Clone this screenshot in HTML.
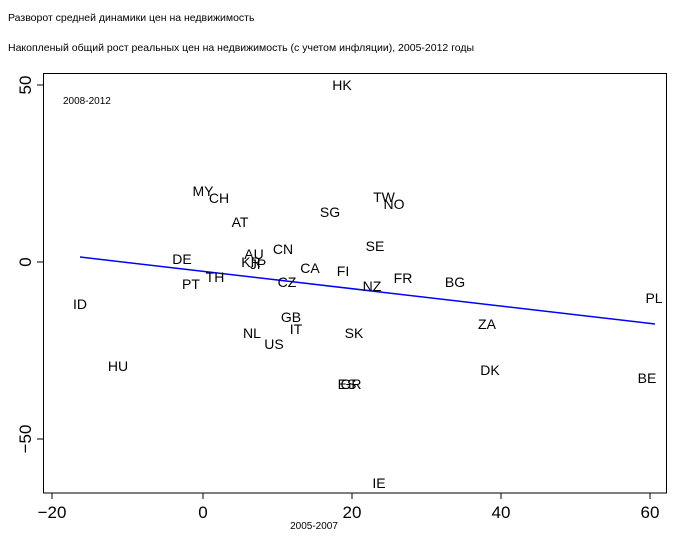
<!DOCTYPE html>
<html><head><meta charset="utf-8"><style>body{margin:0;background:#fff}</style></head><body>
<svg width="698" height="538" xmlns="http://www.w3.org/2000/svg" font-family="Liberation Sans, Arial, sans-serif">
<rect width="698" height="538" fill="#fff"/>
<text x="8" y="21" font-size="10.5">Разворот средней динамики цен на недвижимость</text>
<text x="8" y="51" font-size="10.5">Накопленый общий рост реальных цен на недвижимость (с учетом инфляции), 2005-2012 годы</text>
<rect x="43.5" y="73.5" width="623" height="419.5" fill="none" stroke="#000" stroke-width="1"/>
<g stroke="#000">
<line x1="52" y1="493" x2="52" y2="499"/><line x1="203" y1="493" x2="203" y2="499"/><line x1="352" y1="493" x2="352" y2="499"/><line x1="501" y1="493" x2="501" y2="499"/><line x1="650" y1="493" x2="650" y2="499"/>
<line x1="37" y1="85" x2="43" y2="85"/><line x1="37" y1="262" x2="43" y2="262"/><line x1="37" y1="439" x2="43" y2="439"/>
</g>
<g font-size="17" text-anchor="middle">
<text x="52" y="518">−20</text><text x="203" y="518">0</text><text x="352" y="518">20</text><text x="501" y="518">40</text><text x="650" y="518">60</text>
<text transform="translate(31,85) rotate(-90)">50</text>
<text transform="translate(31,262) rotate(-90)">0</text>
<text transform="translate(31,439) rotate(-90)">−50</text>
</g>
<text x="314" y="529" font-size="10" text-anchor="middle">2005-2007</text>
<text x="63" y="104" font-size="10">2008-2012</text>
<line x1="80" y1="257" x2="655" y2="324" stroke="#0000ff" stroke-width="1.5"/>
<g font-size="14" text-anchor="middle">
<text x="342" y="90">HK</text><text x="203" y="196">MY</text><text x="219" y="203">CH</text><text x="240" y="227">AT</text>
<text x="330" y="217">SG</text><text x="384" y="202">TW</text><text x="394" y="209">NO</text><text x="375" y="251">SE</text>
<text x="254" y="259">AU</text><text x="283" y="254">CN</text><text x="251" y="267">KR</text><text x="258" y="269">JP</text>
<text x="310" y="273">CA</text><text x="343" y="276">FI</text><text x="372" y="291">NZ</text><text x="403" y="283">FR</text>
<text x="455" y="287">BG</text><text x="182" y="264">DE</text><text x="191" y="289">PT</text><text x="215" y="282">TH</text>
<text x="287" y="287">CZ</text><text x="80" y="309">ID</text><text x="654" y="303">PL</text><text x="291" y="322">GB</text>
<text x="296" y="334">IT</text><text x="487" y="329">ZA</text><text x="252" y="338">NL</text><text x="274" y="349">US</text>
<text x="354" y="338">SK</text><text x="118" y="371">HU</text><text x="490" y="375">DK</text><text x="647" y="383">BE</text>
<text x="347" y="389">ES</text><text x="351" y="389">GR</text><text x="379" y="488">IE</text>
</g>
</svg>
</body></html>
